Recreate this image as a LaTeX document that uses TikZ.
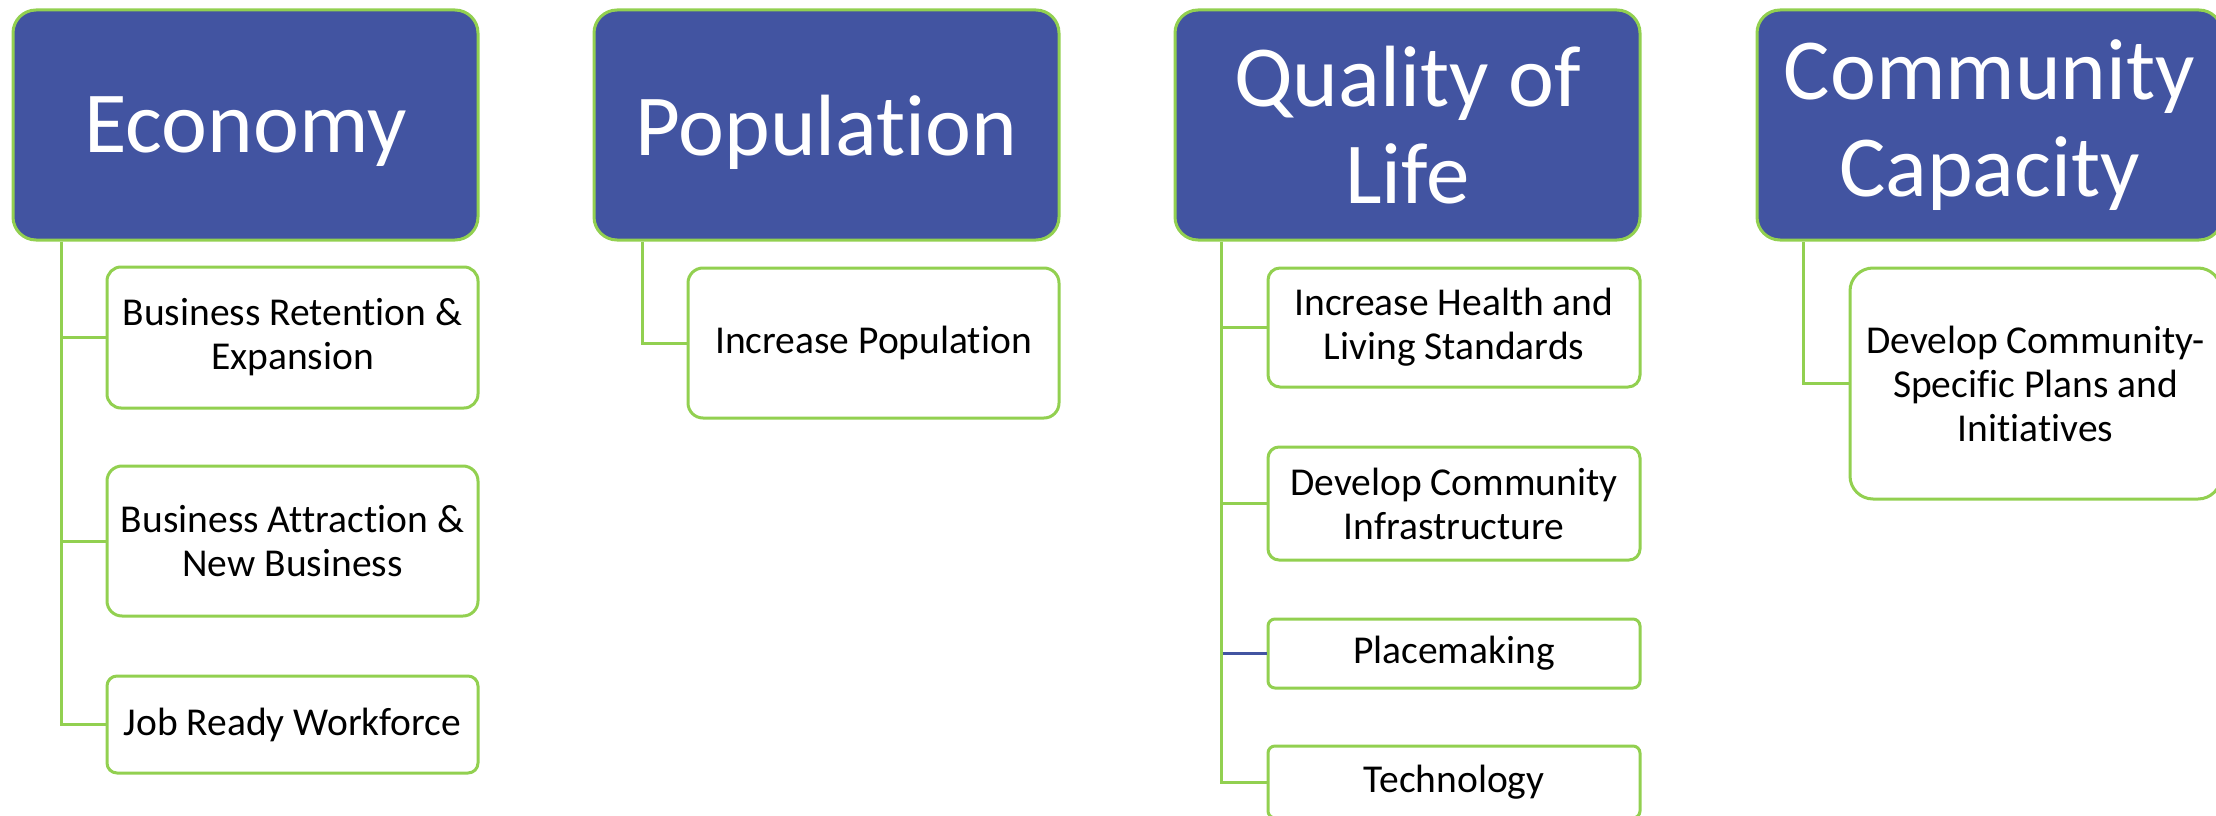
\documentclass[tikz,border=0pt]{standalone}
\usepackage{fontspec}
\setmainfont{Carlito}[Ligatures=NoCommon]
\definecolor{hdrblue}{RGB}{66,84,161}
\definecolor{lgreen}{RGB}{146,208,80}
\begin{document}
\begin{tikzpicture}[x=1pt,y=-1pt,
  hdr/.style={draw=lgreen, line width=3pt, fill=hdrblue, text=white, rounded corners=23pt,
    inner sep=0pt, align=center, minimum width=465pt, minimum height=230pt,
    font=\fontsize{87}{97}\selectfont},
  sub/.style={draw=lgreen, line width=3pt, fill=white, text=black, inner sep=0pt,
    align=center, font=\fontsize{39.5}{44}\selectfont},
  conn/.style={draw=lgreen, line width=3pt},
  connb/.style={draw=hdrblue, line width=3pt}]
\useasboundingbox (0,0) rectangle (2216,816);
\clip (0,0) rectangle (2216,816);
% headers
\node[hdr, text depth=0pt] (eco) at (245.5,125) {Economy};
\node[hdr, text depth=0pt] (pop) at (826.5,125) {Population};
\node[hdr] (qol) at (1407.5,125) {Quality of\\Life};
\node[hdr] (cc)  at (1989.5,125) {Community\\Capacity};
% economy children
\node[sub, minimum width=371pt, minimum height=141pt, rounded corners=14pt] (e1) at (292.5,337.5) {Business Retention \&\\Expansion};
\node[sub, minimum width=371pt, minimum height=150pt, rounded corners=15pt] (e2) at (292.5,541) {Business Attraction \&\\New Business};
\node[sub, minimum width=371pt, minimum height=97pt, rounded corners=10pt] (e3) at (292.5,724.5) {Job Ready Workforce};
% population child
\node[sub, minimum width=371pt, minimum height=150pt, rounded corners=15pt] (p1) at (873.5,343) {Increase Population};
% quality of life children
\node[sub, minimum width=372pt, minimum height=119pt, rounded corners=12pt] (q1) at (1454,327.5) {Increase Health and\\Living Standards};
\node[sub, minimum width=372pt, minimum height=113pt, rounded corners=11pt] (q2) at (1454,503.5) {Develop Community\\Infrastructure};
\node[sub, minimum width=372pt, minimum height=69pt, rounded corners=7pt] (q3) at (1454,653.5) {Placemaking};
\node[sub, minimum width=372pt, minimum height=72pt, rounded corners=7pt] (q4) at (1454,782) {Technology};
% community capacity child
\node[sub, minimum width=371pt, minimum height=231pt, rounded corners=23pt] (c1) at (2035.5,383.5) {Develop Community-\\Specific Plans and\\Initiatives};
% connectors
\coordinate (e0) at (61,241.5);
\coordinate (p0) at (642,241.5);
\coordinate (q0) at (1221,241.5);
\coordinate (c0) at (1803,241.5);
\draw[conn] (e0) |- (e1.west);
\draw[conn] (e0) |- (e2.west);
\draw[conn] (e0) |- (e3.west);
\draw[conn] (p0) |- (p1.west);
\draw[conn] (q0) |- (q1.west);
\draw[conn] (q0) |- (q2.west);
\draw[conn] (q0) |- (q4.west);
\draw[connb] ([xshift=1.5pt]q0 |- q3.west) -- (q3.west);
\draw[conn] (c0) |- (c1.west);
\end{tikzpicture}
\end{document}
